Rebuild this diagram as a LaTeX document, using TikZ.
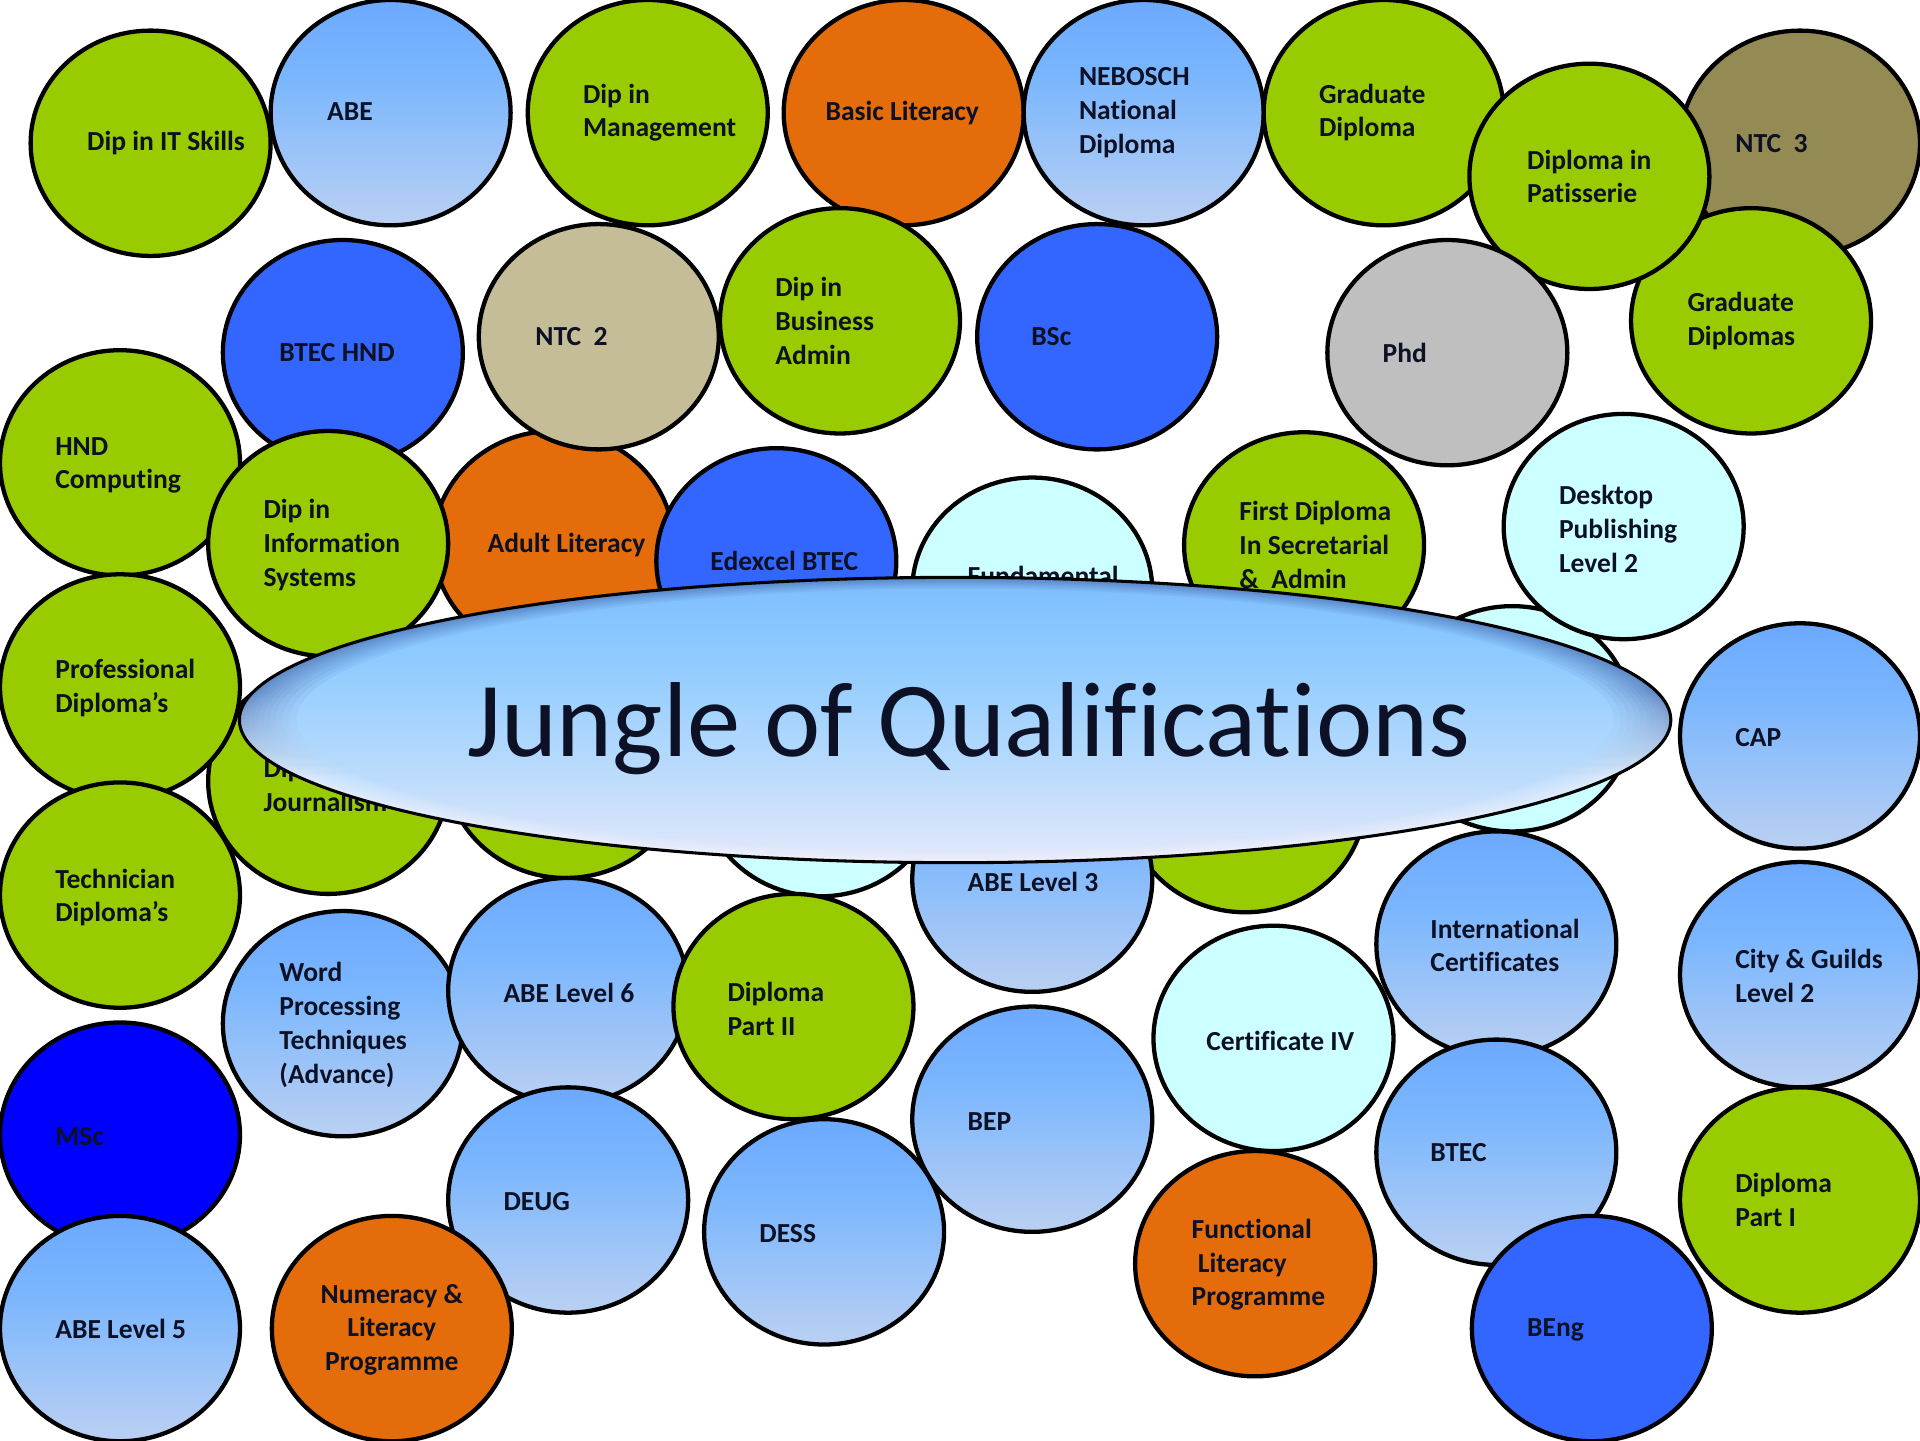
\documentclass[tikz,border=0pt]{standalone}
\usepackage{fontspec}
\setmainfont{Carlito}[Ligatures=NoCommon]
\usetikzlibrary{shapes.geometric}
\definecolor{qgreen}{RGB}{153,204,0}
\definecolor{qorange}{RGB}{228,108,10}
\definecolor{qblue}{RGB}{51,102,255}
\definecolor{qdeep}{RGB}{0,0,255}
\definecolor{qcyan}{RGB}{204,255,255}
\definecolor{qtan}{RGB}{196,189,151}
\definecolor{qolive}{RGB}{148,138,84}
\definecolor{qgray}{RGB}{191,191,191}
\definecolor{qtext}{RGB}{13,17,38}
\definecolor{gtop}{RGB}{88,150,255}
\definecolor{gmid}{RGB}{122,182,254}
\definecolor{glow}{RGB}{186,208,242}
\definecolor{gbot}{RGB}{248,232,248}
\definecolor{ttop}{RGB}{88,140,226}
\definecolor{tup}{RGB}{116,180,252}
\definecolor{tmid}{RGB}{140,202,255}
\definecolor{tlow}{RGB}{188,220,252}
\definecolor{tbot}{RGB}{236,234,250}
\definecolor{gloss}{RGB}{60,90,160}
\pgfdeclareverticalshading{qgrad}{100bp}{color(0bp)=(gbot); color(25bp)=(glow); color(58bp)=(gmid); color(100bp)=(gtop)}
\pgfdeclareverticalshading{tgrad}{100bp}{color(0bp)=(white); color(10bp)=(white); color(22bp)=(tbot); color(40bp)=(tlow); color(62bp)=(tmid); color(85bp)=(tup); color(100bp)=(ttop)}
\pgfdeclareverticalshading{glossgrad}{100bp}{color(0bp)=(white); color(40bp)=(white); color(55bp)=(gloss); color(100bp)=(gloss)}
\tikzset{
  qc/.style={ellipse, draw=black, line width=3.5pt, minimum width=196pt, minimum height=184pt, inner sep=0pt},
  qg/.style={qc, fill=qgreen},
  qo/.style={qc, fill=qorange},
  qb/.style={qc, fill=qblue},
  qd/.style={qc, fill=qdeep},
  qy/.style={qc, fill=qcyan},
  qt/.style={qc, fill=qtan},
  qv/.style={qc, fill=qolive},
  qa/.style={qc, fill=qgray},
  qs/.style={qc, shade, shading=qgrad},
  lbl/.style={anchor=west, align=left, inner sep=0pt, text=qtext, font=\bfseries\fontsize{22.5}{27.5}\selectfont},
  clbl/.style={lbl, anchor=center, align=center},
}
\begin{document}
\begin{tikzpicture}[x=1pt,y=-1pt]
\fill[white] (0,0) rectangle (1568,1176);
\useasboundingbox (0,0) rectangle (1568,1176);
% hidden circles under the title
\node[qg] (hg1) at (462,625) {};
\node[qy] (hc1) at (670,640) {};
\node[qg] (hg2) at (1017,653) {};
\node[qy] (hc2) at (1235,587) {};
\node[qy] (fund) at (843,482) {};
\node[lbl] (fund-t) at (790,470) {Fundamental};
\node[qg] (journ) at (268,638) {};
\node[lbl] (journ-t) at (215,641) {Dip in\\Journalism};
% top row
\node[qg] (itsk) at (123,117) {};
\node[lbl] (itsk-t) at (71,117) {Dip in IT Skills};
\node[qs] (abe) at (319,92) {};
\node[lbl] (abe-t) at (267,91) {ABE};
\node[qg] (dipm) at (529,92) {};
\node[lbl] (dipm-t) at (476,92) {Dip in\\Management};
\node[qo] (basic) at (738,92) {};
\node[lbl] (basic-t) at (674,92) {Basic Literacy};
\node[qs] (nebo) at (934,92) {};
\node[lbl] (nebo-t) at (881,92) {NEBOSCH\\National\\Diploma};
\node[qg] (gdip) at (1130,92) {};
\node[lbl] (gdip-t) at (1077,92) {Graduate\\Diploma};
\node[qv] (ntc3) at (1470,117) {};
\node[lbl] (ntc3-t) at (1417,117) {NTC~~3};
\node[qg] (gdips) at (1430,262) {};
\node[lbl] (gdips-t) at (1378,262) {Graduate\\Diplomas};
\node[qg] (pat) at (1298,144) {};
\node[lbl] (pat-t) at (1247,144) {Diploma in\\Patisserie};
% second row
\node[qo] (adult) at (452,444) {};
\node[lbl] (adult-t) at (398,445) {Adult Literacy};
\node[qt] (ntc2) at (489,275) {};
\node[lbl] (ntc2-t) at (437,275) {NTC~~2};
\node[qb] (bhnd) at (280,288) {};
\node[lbl] (bhnd-t) at (228,288) {BTEC HND};
\node[qg] (busad) at (686,262) {};
\node[lbl] (busad-t) at (633,262) {Dip in\\Business\\Admin};
\node[qb] (bsc) at (896,275) {};
\node[lbl] (bsc-t) at (842,275) {BSc};
\node[qa] (phd) at (1182,288) {};
\node[lbl] (phd-t) at (1129,288) {Phd};
% third row
\node[qg] (hndc) at (98,378) {};
\node[lbl] (hndc-t) at (45,380) {HND\\Computing};
\node[qg] (infos) at (268,444) {};
\node[lbl] (infos-t) at (215,445) {Dip in\\Information\\Systems};
\node[qb] (edex) at (634,458) {};
\node[lbl] (edex-t) at (580,458) {Edexcel BTEC};
\node[qg] (first) at (1065,445) {};
\node[lbl] (first-t) at (1012,445) {First Diploma\\In Secretarial\\\&~~Admin};
\node[qy] (desk) at (1326,430) {};
\node[lbl] (desk-t) at (1273,432) {Desktop\\Publishing\\Level 2};
% left column
\node[qg] (prof) at (98,561) {};
\node[lbl] (prof-t) at (45,562) {Professional\\Diploma’s};
\node[qg] (tech) at (98,731) {};
\node[lbl] (tech-t) at (45,733) {Technician\\Diploma’s};
\node[qd] (msc) at (98,927) {};
\node[lbl] (msc-t) at (45,928) {MSc};
\node[qs] (abe5) at (98,1085) {};
\node[lbl] (abe5-t) at (45,1085) {ABE Level 5};
% lower middle
\node[qs] (word) at (280,836) {};
\node[lbl] (word-t) at (228,837) {Word\\Processing\\Techniques\\(Advance)};
\node[qs] (abe6) at (464,809) {};
\node[lbl] (abe6-t) at (411,811) {ABE Level 6};
\node[qg] (dp2) at (648,822) {};
\node[lbl] (dp2-t) at (594,824) {Diploma\\Part II};
\node[qs] (deug) at (464,980) {};
\node[lbl] (deug-t) at (411,981) {DEUG};
\node[qo] (numer) at (320,1085) {};
\node[clbl] (numer-t) at (320,1086) {Numeracy \&\\Literacy\\Programme};
\node[qs] (abe3) at (843,718) {};
\node[lbl] (abe3-t) at (790,720) {ABE Level 3};
\node[qs] (bep) at (843,914) {};
\node[lbl] (bep-t) at (790,916) {BEP};
\node[qs] (dess) at (673,1006) {};
\node[lbl] (dess-t) at (620,1007) {DESS};
\node[qy] (cert4) at (1040,848) {};
\node[lbl] (cert4-t) at (985,850) {Certificate IV};
\node[qo] (func) at (1025,1032) {};
\node[lbl] (func-t) at (973,1033) {Functional\\\ Literacy\\Programme};
% right side
\node[qs] (intc) at (1222,771) {};
\node[lbl] (intc-t) at (1168,772) {International\\Certificates};
\node[qs] (btec) at (1222,941) {};
\node[lbl] (btec-t) at (1168,941) {BTEC};
\node[qb] (beng) at (1300,1085) {};
\node[lbl] (beng-t) at (1247,1086) {BEng};
\node[qs] (cap) at (1470,601) {};
\node[lbl] (cap-t) at (1417,602) {CAP};
\node[qs] (city) at (1470,796) {};
\node[lbl] (city-t) at (1417,797) {City \& Guilds\\Level 2};
\node[qg] (dp1) at (1470,980) {};
\node[lbl] (dp1-t) at (1417,980) {Diploma\\Part I};
% title
\node[ellipse, shade, shading=tgrad, minimum width=1169pt, minimum height=233pt, inner sep=0pt] (title) at (780,588) {};
\foreach \s in {0.92,0.93,0.94,0.95,0.958,0.966,0.973,0.98,0.986,0.991,0.995,0.998}{
  \path[shade, shading=glossgrad, even odd rule, fill opacity=0.07]
    (title.center) ellipse [x radius=584.5pt, y radius=116.5pt]
    (title.center) ellipse [x radius=\s*584.5pt, y radius=\s*116.5pt];
}
\draw[black, line width=2.5pt] (title.center) ellipse [x radius=584.5pt, y radius=116.5pt];
\node[anchor=base, inner sep=0pt, text=qtext, font=\fontsize{87}{100}\selectfont] (title-t) at (791,618) {Jungle of Qualifications};
\end{tikzpicture}
\end{document}
